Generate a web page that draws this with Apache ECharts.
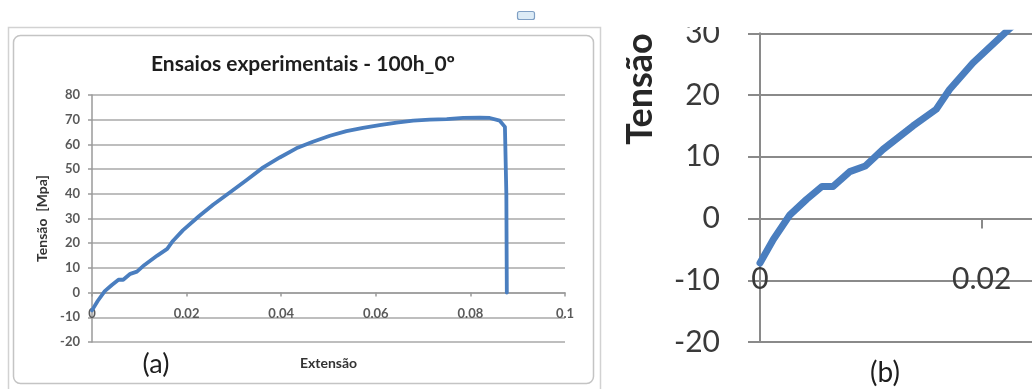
<!DOCTYPE html>
<html>
<head>
<meta charset="utf-8">
<script src="https://cdn.jsdelivr.net/npm/echarts@6/dist/echarts.min.js"></script>
<style>
  html, body { margin: 0; padding: 0; background: #fff; }
  #chart { width: 1032px; height: 389px; }
</style>
</head>
<body>
<div id="chart"></div>
<script>
// Tensile test, 100h at 0 degrees: strain (Extensão) vs stress (Tensão, MPa)
const strain = [
  0, 0.0012, 0.0027, 0.0042, 0.0056, 0.0066, 0.0081, 0.0095, 0.0111,
  0.0138, 0.0159, 0.0171, 0.0192, 0.0226, 0.0256, 0.0292, 0.0327,
  0.0362, 0.0397, 0.0432, 0.0467, 0.0503, 0.0538, 0.0573, 0.0608,
  0.0644, 0.0679, 0.0714, 0.0750, 0.0785, 0.0820, 0.0841, 0.0862,
  0.0873, 0.0876, 0.0877
];
const stress = [
  -7.2, -3.4, 0.6, 3.1, 5.2, 5.2, 7.6, 8.5, 11.2,
  15.0, 17.7, 20.9, 25.2, 30.9, 35.6, 40.6, 45.6,
  50.7, 54.7, 58.4, 61.1, 63.5, 65.4, 66.7, 67.8,
  68.8, 69.6, 70.0, 70.2, 70.7, 70.8, 70.7, 69.6,
  67.1, 40.0, 0
];

// Axis ranges and steps
const xRangeA = [0, 0.1];
const xStep = 0.02;
const yRangeA = [-20, 80];
const xRangeB = [0, 0.028];
const yRangeB = [-20, 30];
const yStep = 10;

const titleText = 'Ensaios experimentais - 100h_0º';
const yNameA = 'Tensão  [Mpa]';
const xNameA = 'Extensão';
const yNameB = 'Tensão';
const panelLabels = ['(a)', '(b)'];

const points = strain.map((s, i) => [s, stress[i]]);

const FONT = 'Lato, "Open Sans", sans-serif';
const lineBlue = '#4a7ebf';

// plot boxes (pixels)
const boxA = { left: 92, top: 95, width: 473, height: 247 };
const boxB = { left: 760, top: 33.3, width: 310.4, height: 308.7 };

// x axes sit on the zero stress line: shift them up from the grid bottom
const zeroShift = (box, range) => -box.height * (0 - range[0]) / (range[1] - range[0]);

const chart = echarts.init(document.getElementById('chart'), null, { renderer: 'canvas' });

chart.setOption({
  backgroundColor: '#ffffff',
  animation: false,
  title: {
    text: titleText,
    left: 298, top: 49, textAlign: 'center',
    textStyle: { fontFamily: FONT, fontSize: 21, fontWeight: 'bold', color: '#1e1e1e' }
  },
  grid: [
    Object.assign({ outerBoundsMode: 'none', containLabel: false }, boxA),
    Object.assign({ outerBoundsMode: 'none', containLabel: false }, boxB)
  ],
  xAxis: [
    {
      gridIndex: 0, type: 'value', min: xRangeA[0], max: xRangeA[1], interval: xStep,
      offset: zeroShift(boxA, yRangeA),
      name: xNameA, nameLocation: 'middle', nameGap: 64,
      nameTextStyle: { fontFamily: FONT, fontSize: 14, fontWeight: 'bold', color: '#333' },
      axisLine: { onZero: false, lineStyle: { color: '#9a9a9a', width: 1.5 } },
      axisTick: { show: true, length: 4, lineStyle: { color: '#9a9a9a', width: 1.5 } },
      axisLabel: { margin: 15, fontFamily: FONT, fontSize: 13, fontWeight: 'bold', color: '#5a5a5a' },
      splitLine: { show: false }
    },
    {
      gridIndex: 1, type: 'value', min: xRangeB[0], max: xRangeB[1], interval: xStep,
      offset: zeroShift(boxB, yRangeB),
      axisLine: { onZero: false, lineStyle: { color: '#8a8a8a', width: 2 } },
      axisTick: { show: true, length: 10, lineStyle: { color: '#8a8a8a', width: 2 } },
      axisLabel: {
        margin: 46, fontFamily: FONT, fontSize: 30, color: '#3a3a3a',
        formatter: v => (Math.abs(v / xStep - Math.round(v / xStep)) < 1e-6 ? String(+v.toFixed(4)) : '')
      },
      splitLine: { show: false }
    }
  ],
  yAxis: [
    {
      gridIndex: 0, type: 'value', min: yRangeA[0], max: yRangeA[1], interval: yStep,
      name: yNameA, nameLocation: 'middle', nameGap: 43,
      nameTextStyle: { fontFamily: FONT, fontSize: 14, fontWeight: 'bold', color: '#333' },
      axisLine: { show: true, onZero: false, lineStyle: { color: '#9a9a9a', width: 1.5 } },
      axisTick: { show: true, length: 4, lineStyle: { color: '#9a9a9a', width: 1.5 } },
      axisLabel: { margin: 12, fontFamily: FONT, fontSize: 13, fontWeight: 'bold', color: '#5a5a5a' },
      splitLine: { show: true, lineStyle: { color: '#a8a8a8', width: 1.5 } }
    },
    {
      gridIndex: 1, type: 'value', min: yRangeB[0], max: yRangeB[1], interval: yStep,
      axisLine: { show: true, onZero: false, lineStyle: { color: '#8a8a8a', width: 2 } },
      axisTick: { show: true, length: 12, lineStyle: { color: '#8a8a8a', width: 2 } },
      axisLabel: { margin: 40, fontFamily: FONT, fontSize: 30, color: '#3a3a3a' },
      splitLine: { show: true, lineStyle: { color: '#8a8a8a', width: 2 } }
    }
  ],
  series: [
    {
      type: 'line', xAxisIndex: 0, yAxisIndex: 0, data: points,
      showSymbol: false, smooth: false, clip: true,
      lineStyle: { color: lineBlue, width: 3.8, cap: 'round', join: 'round' }
    },
    {
      type: 'line', xAxisIndex: 1, yAxisIndex: 1, data: points,
      showSymbol: false, smooth: false, clip: true,
      lineStyle: { color: lineBlue, width: 7, cap: 'round', join: 'round' }
    }
  ],
  graphic: [
    // chart frame of panel (a)
    { type: 'rect', z: -10, shape: { x: 8.5, y: 27.5, width: 592, height: 370 },
      style: { fill: '#ffffff', stroke: '#d2d2d2', lineWidth: 1.5 } },
    { type: 'rect', z: -9, shape: { x: 13.5, y: 35.5, width: 580, height: 348, r: 7 },
      style: { fill: '#ffffff', stroke: '#c4c4c4', lineWidth: 1.5 } },
    // small layout icon above the frame
    { type: 'rect', z: 5, shape: { x: 517.5, y: 11.5, width: 17, height: 8, r: 2 },
      style: { fill: '#dcebf6', stroke: '#7f9fc4', lineWidth: 1.2 } },
    // crop edge of panel (b)
    { type: 'rect', z: 100, shape: { x: 606, y: 0, width: 426, height: 27 },
      style: { fill: '#ffffff' } },
    { type: 'text', z: 101, x: 156, y: 364,
      style: { text: panelLabels[0], fontFamily: FONT, fontSize: 27, fill: '#1e1e1e',
        align: 'center', verticalAlign: 'middle' } },
    { type: 'text', z: 101, x: 885, y: 373,
      style: { text: panelLabels[1], fontFamily: FONT, fontSize: 28, fill: '#1e1e1e',
        align: 'center', verticalAlign: 'middle' } },
    { type: 'text', z: 101, x: 640, y: 89, rotation: Math.PI / 2,
      style: { text: yNameB, fontFamily: FONT, fontSize: 36, fontWeight: 'bold', fill: '#262626',
        align: 'center', verticalAlign: 'middle' } }
  ]
});
</script>
</body>
</html>
